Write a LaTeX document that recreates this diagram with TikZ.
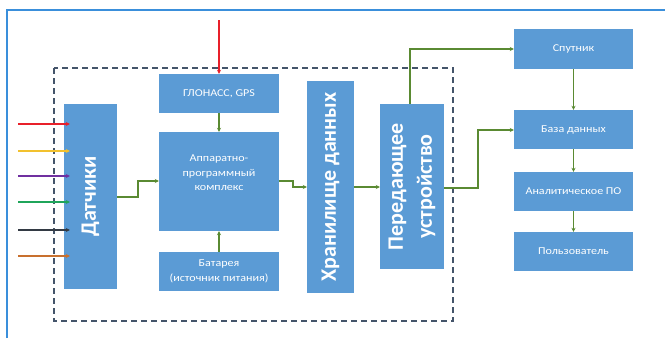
\documentclass[tikz,border=0pt]{standalone}
\usepackage{fontspec}
\setmainfont{Carlito}
\newfontfamily\widefont[FakeStretch=1.15]{Carlito}
\usetikzlibrary{arrows.meta}
\definecolor{boxblue}{HTML}{5B9BD5}
\definecolor{arrgreen}{HTML}{5A8A32}
\definecolor{dashc}{HTML}{44546A}
\definecolor{framec}{HTML}{3A8FDB}
\definecolor{inred}{HTML}{E8202A}
\definecolor{inyellow}{HTML}{F2C12E}
\definecolor{inpurple}{HTML}{7030A0}
\definecolor{ingreen}{HTML}{1FA55A}
\definecolor{inblack}{HTML}{333A44}
\definecolor{inbrown}{HTML}{C8702E}
\tikzset{
  blk/.style={fill=boxblue, draw=none, text=white, align=center, inner sep=1pt, font=\widefont\fontsize{10.5}{15}\selectfont},
  bigtxt/.style={rotate=90, text=white, align=center, font=\bfseries\fontsize{22}{29}\selectfont},
  garrow/.style={draw=arrgreen, line width=1.4pt, -{Stealth[length=4pt,width=4pt]}},
  inarrow/.style={line width=1.1pt, -{Stealth[length=4pt,width=4pt]}},
}
\begin{document}
\begin{tikzpicture}[x=1pt,y=-1pt]
\useasboundingbox (0,0) rectangle (665,338);
% outer frame
\draw[framec, line width=1.6pt] (7,338) -- (7,10) -- (665,10);
% dashed boundary
\draw[dashc, line width=1.2pt, dash pattern=on 6pt off 4pt] (54,68) rectangle (453,321);
% blocks
\node[blk, minimum width=53pt, minimum height=185pt] (dat) at (90.5,196.5) {};
\node[bigtxt] at (dat.center) {Датчики};
\node[blk, minimum width=120pt, minimum height=39pt] (gps) at (219,93.5) {ГЛОНАСС, GPS};
\node[blk, minimum width=120pt, minimum height=99pt] (apk) at (219,181.5) {};
\node[text=white, align=center, font=\widefont\fontsize{10.5}{14.5}\selectfont] at (219,173) {Аппаратно-\\программный\\комплекс};
\node[blk, minimum width=120pt, minimum height=39pt] (bat) at (219,271.5) {Батарея\\(источник питания)};
\node[blk, minimum width=47pt, minimum height=212pt] (stor) at (330.5,187) {};
\node[bigtxt] at (stor.center) {Хранилище данных};
\node[blk, minimum width=64pt, minimum height=165pt] (tx) at (412,186.5) {};
\node[bigtxt] at (tx.center) {Передающее\\устройство};
\node[blk, minimum width=119pt, minimum height=40pt] (sat) at (573.5,49) {Спутник};
\node[blk, minimum width=119pt, minimum height=39pt] (db) at (573.5,129.5) {База данных};
\node[blk, minimum width=119pt, minimum height=39pt] (an) at (573.5,191.5) {Аналитическое ПО};
\node[blk, minimum width=119pt, minimum height=39pt] (usr) at (573.5,251.5) {Пользователь};
% input arrows
\coordinate (i1) at (18,124);
\coordinate (i2) at (18,151);
\coordinate (i3) at (18,176);
\coordinate (i4) at (18,202);
\coordinate (i5) at (18,230);
\coordinate (i6) at (18,256);
\draw[inarrow, inred] (i1) -- ([xshift=6pt]dat.west |- i1);
\draw[inarrow, inyellow] (i2) -- ([xshift=6pt]dat.west |- i2);
\draw[inarrow, inpurple] (i3) -- ([xshift=6pt]dat.west |- i3);
\draw[inarrow, ingreen] (i4) -- ([xshift=6pt]dat.west |- i4);
\draw[inarrow, inblack] (i5) -- ([xshift=6pt]dat.west |- i5);
\draw[inarrow, inbrown] (i6) -- ([xshift=6pt]dat.west |- i6);
% GPS signal
\coordinate (sig) at (219,20);
\draw[inarrow, inred] (sig) -- (gps.north);
% green connectors
\draw[garrow] (gps.south) -- (apk.north);
\draw[garrow] (bat.north) -- (apk.south);
\draw[garrow] (dat.east |- 0,197) -- (138,197) -- (138,181) -- (apk.west |- 0,181);
\draw[garrow] (apk.east |- 0,181) -- (293,181) -- (293,187) -- (stor.west |- 0,187);
\draw[garrow] (stor.east |- 0,187) -- (tx.west |- 0,187);
\draw[garrow] (tx.north -| 410,0) -- (410,49) -- (sat.west);
\draw[garrow] (tx.east |- 0,188) -- (478,188) -- (478,130) -- (db.west |- 0,130);
\draw[garrow] (sat.south) -- (db.north);
\draw[garrow] (db.south) -- (an.north);
\draw[garrow] (an.south) -- (usr.north);
\end{tikzpicture}
\end{document}
